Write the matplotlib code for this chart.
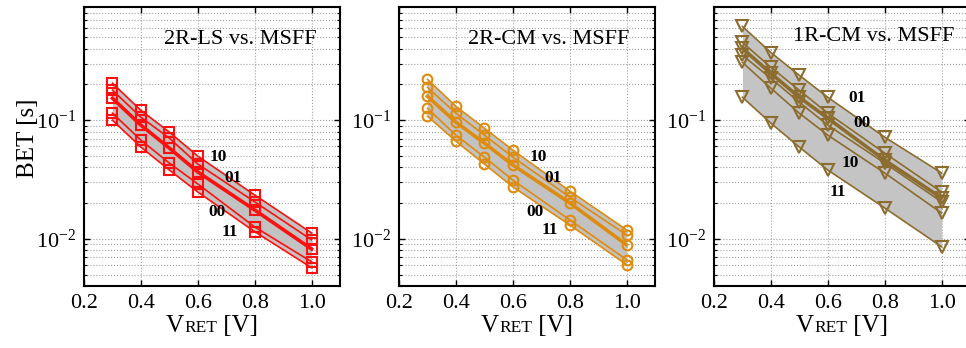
import matplotlib
matplotlib.use("Agg")
import matplotlib.pyplot as plt
from matplotlib.ticker import LogLocator, NullFormatter, FixedLocator
from matplotlib.offsetbox import TextArea, HPacker, AnnotationBbox

plt.rcParams['font.family'] = ['Liberation Serif', 'DejaVu Serif']
plt.rcParams['mathtext.fontset'] = 'stix'

# ---------------- data ----------------
v_ret = [0.3, 0.4, 0.5, 0.6, 0.8, 1.0]

# Panel 1: 2R-LS vs. MSFF
ls_10 = [0.205, 0.121, 0.0793, 0.0498, 0.0234, 0.0112]
ls_01 = [0.179, 0.106, 0.0706, 0.0427, 0.0205, 0.0098]
ls_msff = [0.153, 0.0908, 0.0582, 0.0366, 0.0175, 0.0082]
ls_00 = [0.1145, 0.0679, 0.0435, 0.0290, 0.0126, 0.0064]
ls_11 = [0.100, 0.0593, 0.0380, 0.0248, 0.0115, 0.0057]

# Panel 2: 2R-CM vs. MSFF
cm2_10 = [0.221, 0.131, 0.0857, 0.0560, 0.0253, 0.0119]
cm2_01 = [0.189, 0.1145, 0.0748, 0.0489, 0.0225, 0.0108]
cm2_msff = [0.159, 0.0962, 0.0641, 0.0419, 0.0201, 0.0089]
cm2_00 = [0.126, 0.0748, 0.0489, 0.0313, 0.01445, 0.00667]
cm2_11 = [0.108, 0.0666, 0.0427, 0.0274, 0.0131, 0.00605]

# Panel 3: 1R-CM vs. MSFF
cm1_01 = [0.617, 0.372, 0.239, 0.156, 0.0720, 0.0359]
cm1_b = [0.452, 0.279, 0.1786, 0.1145, 0.0528, 0.0248]
cm1_msff = [0.403, 0.248, 0.156, 0.104, 0.0461, 0.0221]
cm1_00 = [0.352, 0.2254, 0.1416, 0.0908, 0.0435, 0.0205]
cm1_10 = [0.307, 0.186, 0.1145, 0.0748, 0.0359, 0.0165]
cm1_11 = [0.156, 0.0944, 0.0593, 0.0380, 0.0182, 0.00857]

titles = ["2R-LS vs. MSFF", "2R-CM vs. MSFF", "1R-CM vs. MSFF"]
x_ticks = [0.2, 0.4, 0.6, 0.8, 1.0]
x_ticklabels = ["0.2", "0.4", "0.6", "0.8", "1.0"]

panels = [
    dict(series=[ls_10, ls_01, ls_msff, ls_00, ls_11], thick=2, color='#ff1010',
         marker='s', ms=6.5, title_x=0.91, title_y=0.885,
         labels=[("10", 0.671, 0.0489), ("01", 0.724, 0.0326),
                 ("00", 0.668, 0.0169), ("11", 0.713, 0.01146)],
         fill='#c2c2c2'),
    dict(series=[cm2_10, cm2_01, cm2_msff, cm2_00, cm2_11], thick=2, color='#de8c10',
         marker='o', ms=7, title_x=0.90, title_y=0.885,
         labels=[("10", 0.689, 0.0489), ("01", 0.742, 0.0326),
                 ("00", 0.678, 0.0169), ("11", 0.731, 0.0119)],
         fill='#c2c2c2'),
    dict(series=[cm1_01, cm1_b, cm1_msff, cm1_00, cm1_10, cm1_11], thick=2, color='#8c6d2f',
         marker='v', ms=8.5, title_x=0.94, title_y=0.895,
         labels=[("01", 0.703, 0.153), ("00", 0.720, 0.0944),
                 ("10", 0.678, 0.0436), ("11", 0.636, 0.0248)],
         fill='#c4c4c4'),
]

W, H = 966, 348
fig = plt.figure(figsize=(W / 100, H / 100), dpi=100)
lefts = [84, 399, 714]
ax_w, top_px, bot_px = 256, 7, 286

for i, p in enumerate(panels):
    ax = fig.add_axes([lefts[i] / W, (H - bot_px) / H, ax_w / W, (bot_px - top_px) / H])
    ax.set_yscale('log')
    ax.set_xlim(0.2, 1.1)
    ax.set_ylim(0.004, 0.9)

    lo = [min(vals) for vals in zip(*p['series'])]
    hi = [max(vals) for vals in zip(*p['series'])]
    ax.fill_between(v_ret, lo, hi, color=p['fill'], lw=0, zorder=2)

    for k, s in enumerate(p['series']):
        lw = 2.6 if k == p['thick'] else 1.2
        ax.plot(v_ret, s, color=p['color'], lw=lw, marker=p['marker'], ms=p['ms'],
                mfc='none', mec=p['color'], mew=1.5, zorder=3)

    for txt, lx, ly in p['labels']:
        ax.text(lx, ly, txt, fontsize=12.5, fontweight='bold', ha='center', va='center',
                zorder=5)

    ax.text(p['title_x'], p['title_y'], titles[i], transform=ax.transAxes,
            ha='right', va='center', fontsize=16, zorder=5)

    ax.xaxis.set_major_locator(FixedLocator(x_ticks))
    ax.set_xticklabels(x_ticklabels)
    ax.yaxis.set_major_locator(LogLocator(base=10, numticks=10))
    ax.yaxis.set_minor_locator(LogLocator(base=10, subs=range(2, 10), numticks=20))
    ax.yaxis.set_minor_formatter(NullFormatter())

    ax.grid(True, which='major', axis='both', linestyle=':', color='#a0a0a0', lw=0.8, zorder=0)
    ax.grid(True, which='minor', axis='y', linestyle=':', color='#a0a0a0', lw=0.8, zorder=0)
    ax.set_axisbelow(True)

    ax.tick_params(axis='both', which='major', direction='in', length=4, width=1,
                   labelsize=16, top=True, right=True, pad=6)
    ax.tick_params(axis='y', which='minor', direction='in', length=2, width=0.8, right=True)
    for sp in ax.spines.values():
        sp.set_linewidth(1.5)

    pack = HPacker(children=[TextArea("V", textprops=dict(size=18)),
                             TextArea("RET", textprops=dict(size=12.5)),
                             TextArea(" [V]", textprops=dict(size=18))],
                   align="baseline", pad=0, sep=0)
    ab = AnnotationBbox(pack, (0.5, -0.145), xycoords='axes fraction',
                        box_alignment=(0.5, 0.5), frameon=False, annotation_clip=False)
    ax.add_artist(ab)

fig.text(28 / W, 1 - 138 / H, "BET [s]", rotation=90, ha='center', va='center', fontsize=18)

fig.savefig("out.png", dpi=100)
